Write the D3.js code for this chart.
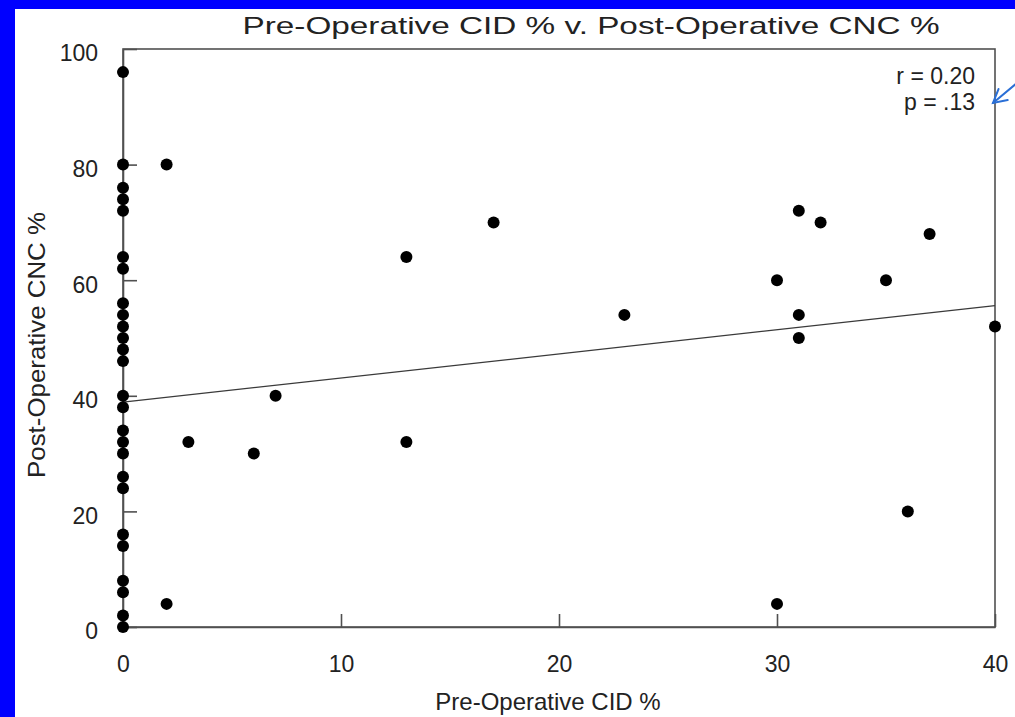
<!DOCTYPE html>
<html>
<head>
<meta charset="utf-8">
<script src="https://cdn.jsdelivr.net/npm/d3@7"></script>
<style>
  html, body { margin: 0; padding: 0; background: #0000ff; }
  svg { display: block; }
  text { font-family: "Liberation Sans", Arial, Helvetica, sans-serif; fill: #222; }
</style>
</head>
<body>
<script>
// Pre-operative CID % (x) and post-operative CNC % (y), one entry per patient
const cidPct = [
  0, 0, 0, 0, 0, 0, 0, 0, 0, 0, 0, 0, 0, 0, 0, 0, 0, 0, 0, 0, 0, 0, 0, 0, 0, 0,
  2, 2, 3, 6, 7, 13, 13, 17, 23, 30, 30, 31, 31, 31, 32, 35, 36, 37, 40
];
const cncPct = [
  96, 80, 76, 74, 72, 64, 62, 56, 54, 52, 50, 48, 46, 40, 38, 34, 32, 30, 26, 24, 16, 14, 8, 6, 2, 0,
  80, 4, 32, 30, 40, 64, 32, 70, 54, 60, 4, 72, 54, 50, 70, 60, 20, 68, 52
];

// Fitted regression line end points (CID %, CNC %)
const fitX = [0, 40];
const fitY = [38.9, 55.6];

const xTicks = [0, 10, 20, 30, 40];
const yTicks = [0, 20, 40, 60, 80, 100];
const statLines = ["r = 0.20", "p = .13"];

const W = 1015, H = 717;
const plot = { left: 123, right: 995, top: 49, bottom: 627 };

const svg = d3.select("body").append("svg").attr("width", W).attr("height", H);

// white page inset within the blue surround
svg.append("rect").attr("x", 15).attr("y", 9).attr("width", W - 15).attr("height", H - 9).attr("fill", "#fff");

const x = d3.scaleLinear().domain([0, 40]).range([plot.left, plot.right]);
const y = d3.scaleLinear().domain([0, 100]).range([plot.bottom, plot.top]);

// frame
svg.append("rect")
  .attr("x", x(0)).attr("y", y(100))
  .attr("width", x(40) - x(0)).attr("height", y(0) - y(100))
  .attr("fill", "none").attr("stroke", "#505050").attr("stroke-width", 1.6);

// axes with inward ticks
const xAxis = svg.append("g").attr("transform", `translate(0,${y(0)})`)
  .call(d3.axisBottom(x).tickValues(xTicks).tickSizeInner(-13).tickSizeOuter(0).tickPadding(29));
const yAxis = svg.append("g").attr("transform", `translate(${x(0)},0)`)
  .call(d3.axisLeft(y).tickValues(yTicks).tickSizeInner(-14).tickSizeOuter(0).tickPadding(25));

[xAxis, yAxis].forEach(g => {
  g.select(".domain").attr("stroke", "#505050").attr("stroke-width", 1.6);
  g.selectAll(".tick line").attr("stroke", "#505050").attr("stroke-width", 1.6);
  g.selectAll(".tick text")
    .style("font-family", "'Liberation Sans', Arial, sans-serif")
    .attr("font-size", 23).attr("fill", "#222");
});
xAxis.selectAll(".tick text").attr("dy", "0.71em");
yAxis.selectAll(".tick text").attr("dy", "0.52em");

// regression line
svg.append("line")
  .attr("x1", x(fitX[0])).attr("y1", y(fitY[0]))
  .attr("x2", x(fitX[1])).attr("y2", y(fitY[1]))
  .attr("stroke", "#3a3a3a").attr("stroke-width", 1.3);

// points
svg.append("g").selectAll("circle")
  .data(cidPct.map((c, i) => ({ c, v: cncPct[i] })))
  .join("circle")
  .attr("cx", d => x(d.c))
  .attr("cy", d => y(d.v))
  .attr("r", 6)
  .attr("fill", "#000");

// title
svg.append("text")
  .attr("x", 591).attr("y", 34)
  .attr("text-anchor", "middle")
  .attr("font-size", 24)
  .attr("textLength", 697).attr("lengthAdjust", "spacingAndGlyphs")
  .text("Pre-Operative CID % v. Post-Operative CNC %");

// axis titles
svg.append("text")
  .attr("x", 548).attr("y", 710)
  .attr("text-anchor", "middle")
  .attr("font-size", 24)
  .text("Pre-Operative CID %");

svg.append("text")
  .attr("transform", "translate(45,345) rotate(-90)")
  .attr("text-anchor", "middle")
  .attr("font-size", 24)
  .attr("textLength", 266).attr("lengthAdjust", "spacingAndGlyphs")
  .text("Post-Operative CNC %");

// correlation statistics
svg.append("g").selectAll("text")
  .data(statLines)
  .join("text")
  .attr("x", 975)
  .attr("y", (d, i) => 84 + i * 26)
  .attr("text-anchor", "end")
  .attr("font-size", 23)
  .text(d => d);

// pointer arrow toward the statistics
const arrowColor = "#2a6fd6";
const tip = [993, 103], tail = [1017, 83];
const ang = Math.atan2(tail[1] - tip[1], tail[0] - tip[0]);
const armLen = 15, spread = 0.5;
const arrow = svg.append("g").attr("stroke", arrowColor).attr("stroke-width", 2).attr("fill", "none")
  .attr("stroke-linecap", "round");
arrow.append("line").attr("x1", tail[0]).attr("y1", tail[1]).attr("x2", tip[0]).attr("y2", tip[1]);
arrow.append("polyline").attr("points", [
  [tip[0] + armLen * Math.cos(ang - spread), tip[1] + armLen * Math.sin(ang - spread)],
  tip,
  [tip[0] + armLen * Math.cos(ang + spread), tip[1] + armLen * Math.sin(ang + spread)]
].map(p => p.join(",")).join(" "));
</script>
</body>
</html>
